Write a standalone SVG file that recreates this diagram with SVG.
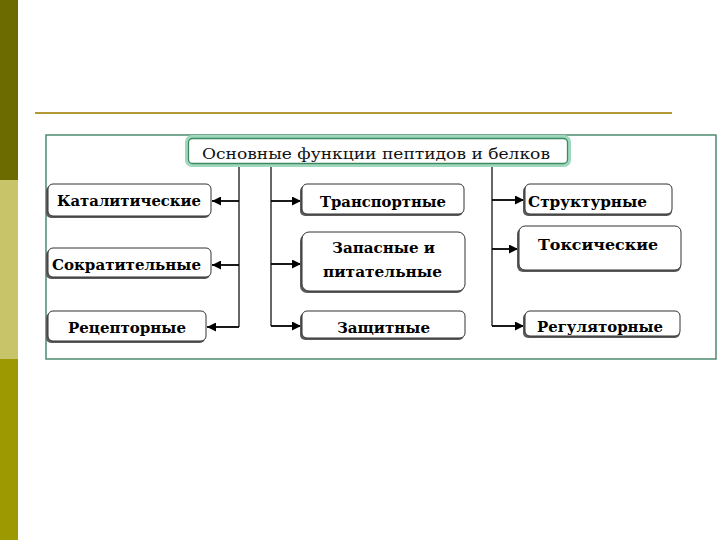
<svg xmlns="http://www.w3.org/2000/svg" width="720" height="540" viewBox="0 0 720 540">
<style>
.sh{fill:#5a5a5a}
.bx{fill:#ffffff;stroke:#333333;stroke-width:1}
.t{font-family:"DejaVu Serif","Liberation Serif",serif;font-weight:bold;font-size:15px;fill:#000}
.ttl{font-family:"DejaVu Serif","Liberation Serif",serif;font-size:15.5px;fill:#111}
.ln{stroke:#000;stroke-width:1.2;fill:none}
.ar{stroke:#000;stroke-width:1.8;fill:none}
</style>
<defs>
<marker id="ah" viewBox="0 0 10 10" refX="10" refY="5" markerWidth="5" markerHeight="5" orient="auto" markerUnits="strokeWidth">
<path d="M0,0 L10,5 L0,10 z" fill="#000"/>
</marker>
</defs>
<rect width="720" height="540" fill="#ffffff"/>
<g id="sidebar">
<rect x="0" y="0" width="18" height="180" fill="#6b6b00"/>
<rect x="0" y="180" width="18" height="179" fill="#c8c46a"/>
<rect x="0" y="359" width="18" height="181" fill="#9c9a00"/>
</g>
<line x1="35" y1="113" x2="672" y2="113" stroke="#b39a32" stroke-width="2"/>
<rect x="46" y="135" width="670" height="224" fill="#ffffff" stroke="#4e8a70" stroke-width="1.5"/>
<g id="connectors">
<path class="ln" d="M239,165 V327"/>
<path class="ln" d="M271,165 V326"/>
<path class="ln" d="M492,165 V326"/>
<path class="ar" d="M239,201 H212" marker-end="url(#ah)"/>
<path class="ar" d="M239,265 H212" marker-end="url(#ah)"/>
<path class="ar" d="M239,327 H207" marker-end="url(#ah)"/>
<path class="ar" d="M271,201 H301" marker-end="url(#ah)"/>
<path class="ar" d="M271,264 H301" marker-end="url(#ah)"/>
<path class="ar" d="M271,326 H301" marker-end="url(#ah)"/>
<path class="ar" d="M492,200 H524" marker-end="url(#ah)"/>
<path class="ar" d="M492,249 H518" marker-end="url(#ah)"/>
<path class="ar" d="M492,326 H524" marker-end="url(#ah)"/>
</g>
<g id="title">
<rect x="187" y="137" width="382" height="28" rx="5" fill="#ffffff" stroke="#9fd8bc" stroke-width="4"/>
<rect x="188.5" y="138.5" width="379" height="25" rx="4" fill="none" stroke="#3d8a62" stroke-width="1.3"/>
<text class="ttl" x="202" y="159" textLength="348" lengthAdjust="spacingAndGlyphs">Основные функции пептидов и белков</text>
</g>
<g id="n-katal">
<rect class="sh" x="46" y="186" width="164" height="32" rx="5"/>
<rect class="bx" x="48" y="184" width="163" height="32" rx="5"/>
<text class="t" x="57" y="206" textLength="144" lengthAdjust="spacingAndGlyphs">Каталитические</text>
</g>
<g id="n-sokr">
<rect class="sh" x="46" y="250" width="164" height="29" rx="5"/>
<rect class="bx" x="48" y="248" width="163" height="29" rx="5"/>
<text class="t" x="52" y="270" textLength="149" lengthAdjust="spacingAndGlyphs">Сократительные</text>
</g>
<g id="n-recept">
<rect class="sh" x="46" y="313" width="159" height="30" rx="5"/>
<rect class="bx" x="48" y="311" width="158" height="30" rx="5"/>
<text class="t" x="68" y="333" textLength="118" lengthAdjust="spacingAndGlyphs">Рецепторные</text>
</g>
<g id="n-transp">
<rect class="sh" x="300" y="186" width="163" height="30" rx="5"/>
<rect class="bx" x="302" y="184" width="162" height="30" rx="5"/>
<text class="t" x="320" y="207" textLength="126" lengthAdjust="spacingAndGlyphs">Транспортные</text>
</g>
<g id="n-zapas">
<rect class="sh" x="300" y="234" width="164" height="59" rx="7"/>
<rect class="bx" x="302" y="232" width="163" height="59" rx="7"/>
<text class="t" x="332" y="253" textLength="103" lengthAdjust="spacingAndGlyphs">Запасные и</text>
<text class="t" x="323" y="277" textLength="119" lengthAdjust="spacingAndGlyphs">питательные</text>
</g>
<g id="n-zasch">
<rect class="sh" x="300" y="313" width="164" height="27" rx="5"/>
<rect class="bx" x="302" y="311" width="163" height="27" rx="5"/>
<text class="t" x="337" y="333" textLength="93" lengthAdjust="spacingAndGlyphs">Защитные</text>
</g>
<g id="n-strukt">
<rect class="sh" x="523" y="186" width="149" height="30" rx="5"/>
<rect class="bx" x="525" y="184" width="147" height="30" rx="5"/>
<text class="t" x="528" y="207" textLength="119" lengthAdjust="spacingAndGlyphs">Структурные</text>
</g>
<g id="n-toks">
<rect class="sh" x="517" y="228" width="164" height="44" rx="6"/>
<rect class="bx" x="519" y="226" width="162" height="44" rx="6"/>
<text class="t" x="538" y="250" textLength="120" lengthAdjust="spacingAndGlyphs">Токсические</text>
</g>
<g id="n-regul">
<rect class="sh" x="523" y="313" width="157" height="25" rx="5"/>
<rect class="bx" x="525" y="311" width="155" height="25" rx="5"/>
<text class="t" x="537" y="332" textLength="126" lengthAdjust="spacingAndGlyphs">Регуляторные</text>
</g>
</svg>
